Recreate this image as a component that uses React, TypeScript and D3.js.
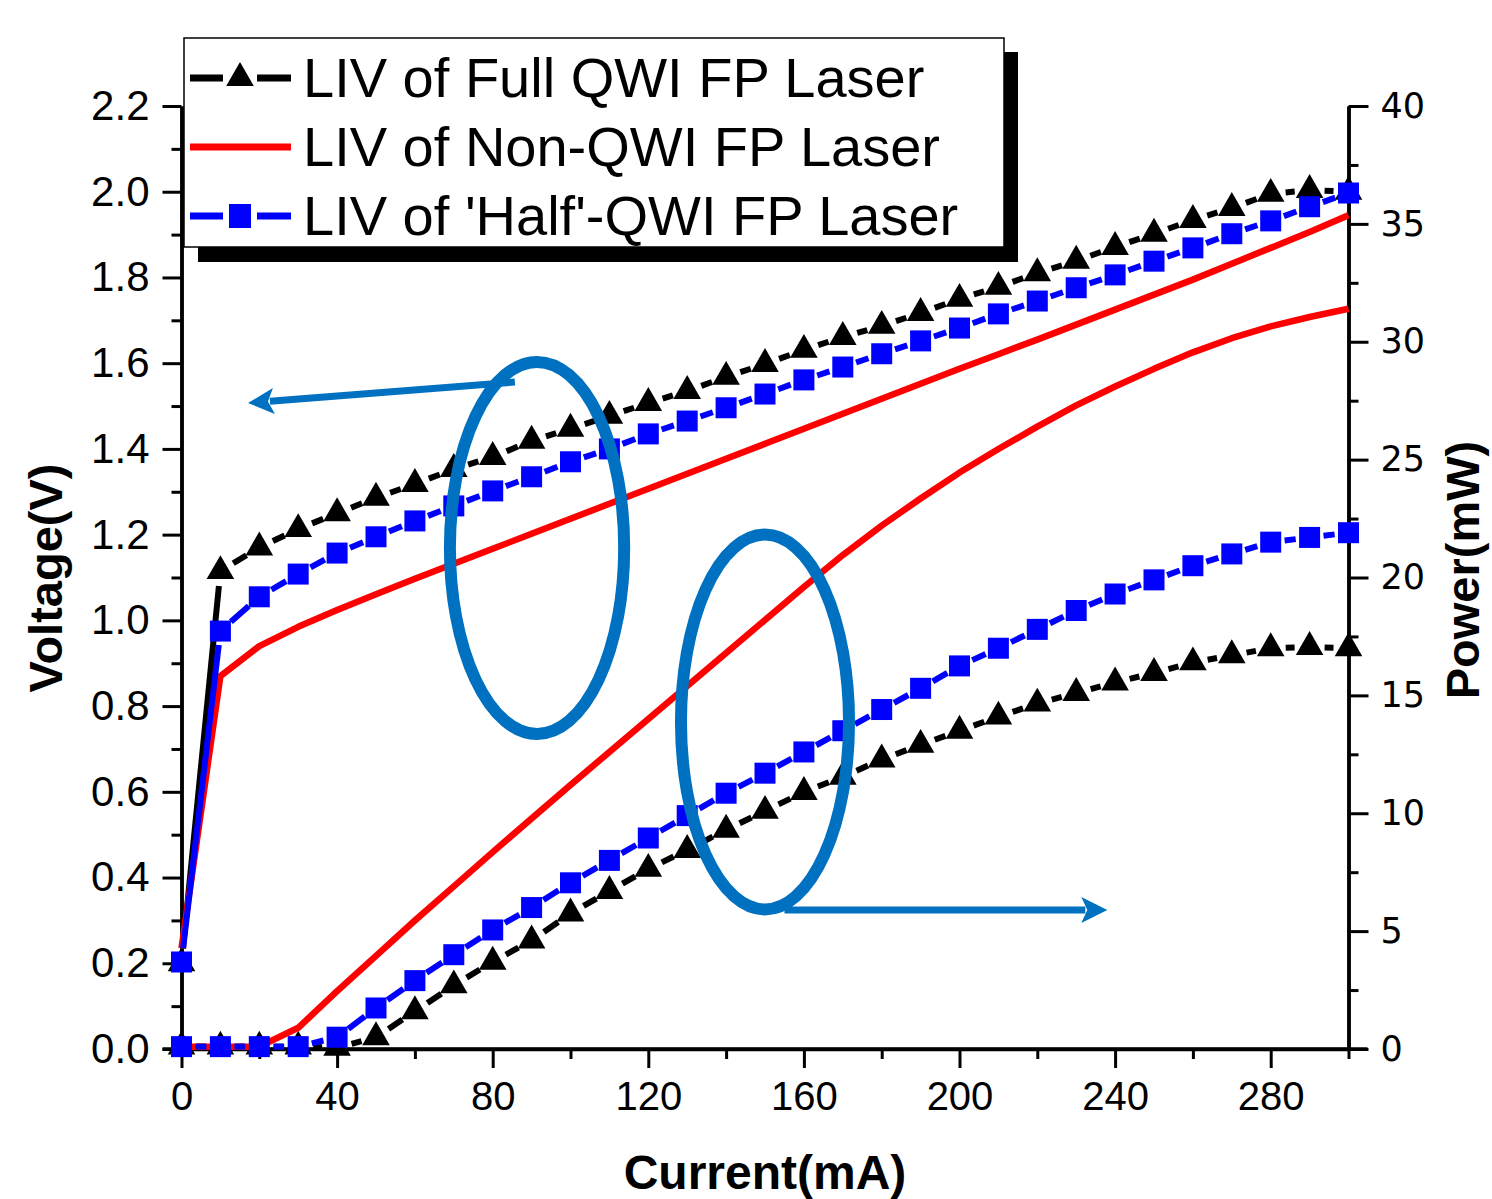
import React, { useEffect, useRef } from "react";
import * as d3 from "d3";

// current values (mA)
const current = [0, 10, 20, 30, 40, 50, 60, 70, 80, 90, 100, 110, 120, 130, 140, 150, 160, 170, 180, 190, 200, 210, 220, 230, 240, 250, 260, 270, 280, 290, 300];

// voltage (V), left axis
const vFull = [0.2, 1.115, 1.17, 1.213, 1.25, 1.286, 1.318, 1.353, 1.381, 1.419, 1.447, 1.477, 1.507, 1.535, 1.568, 1.598, 1.631, 1.661, 1.687, 1.717, 1.75, 1.778, 1.81, 1.839, 1.871, 1.902, 1.934, 1.962, 1.995, 2.004, 2.0];
const vNon = [0.235, 0.87, 0.94, 0.985, 1.024, 1.061, 1.097, 1.132, 1.167, 1.202, 1.237, 1.272, 1.307, 1.342, 1.377, 1.412, 1.447, 1.482, 1.517, 1.552, 1.587, 1.621, 1.655, 1.69, 1.725, 1.76, 1.795, 1.832, 1.869, 1.906, 1.945];
const vHalf = [0.203, 0.975, 1.055, 1.108, 1.157, 1.195, 1.232, 1.267, 1.302, 1.335, 1.37, 1.4, 1.435, 1.465, 1.496, 1.528, 1.561, 1.591, 1.622, 1.652, 1.682, 1.715, 1.745, 1.776, 1.806, 1.838, 1.869, 1.902, 1.932, 1.965, 1.997];

// power (mW), right axis
const pFull = [0.1, 0.1, 0.1, 0.1, 0.05, 0.5, 1.6, 2.7, 3.7, 4.6, 5.75, 6.7, 7.64, 8.44, 9.3, 10.1, 10.9, 11.55, 12.28, 12.9, 13.5, 14.1, 14.65, 15.1, 15.55, 15.95, 16.4, 16.7, 17.0, 17.05, 17.0];
const pNon = [0.1, 0.1, 0.1, 0.9, 2.45, 3.95, 5.45, 6.9, 8.35, 9.78, 11.2, 12.6, 14.0, 15.4, 16.8, 18.2, 19.6, 20.95, 22.2, 23.35, 24.45, 25.45, 26.4, 27.3, 28.1, 28.85, 29.55, 30.15, 30.65, 31.05, 31.4];
const pHalf = [0.1, 0.1, 0.1, 0.1, 0.5, 1.74, 2.9, 4.0, 5.05, 6.0, 7.05, 8.0, 8.95, 9.9, 10.85, 11.7, 12.6, 13.5, 14.4, 15.3, 16.25, 17.0, 17.8, 18.6, 19.3, 19.9, 20.5, 21.0, 21.5, 21.7, 21.9];

const legendLabels = ["LIV of Full QWI FP Laser", "LIV of Non-QWI FP Laser", "LIV of 'Half'-QWI FP Laser"];

const xTicks = [0, 40, 80, 120, 160, 200, 240, 280];
const xMinor = [20, 60, 100, 140, 180, 220, 260, 300];
const vTicks = [0, 0.2, 0.4, 0.6, 0.8, 1.0, 1.2, 1.4, 1.6, 1.8, 2.0, 2.2];
const pTicks = [0, 5, 10, 15, 20, 25, 30, 35, 40];

const BLUE = "#0000FF";
const RED = "#FF0000";
const NOTE = "#0070C0";

const App = () => {
  const ref = useRef<HTMLDivElement>(null);

  useEffect(() => {
    document.body.style.margin = "0";
    d3.select(ref.current).selectAll("*").remove();

    const width = 1492;
    const height = 1199;
    const svg = d3
      .select(ref.current)
      .append("svg")
      .attr("width", width)
      .attr("height", height)
      .style("display", "block")
      .style("background", "#fff");

    const x = d3.scaleLinear().domain([0, 300]).range([181.5, 1348.5]);
    const yV = d3.scaleLinear().domain([0, 2.2]).range([1049, 106]);
    const yP = d3.scaleLinear().domain([0, 40]).range([1049, 106]);

    const font = "'Liberation Sans', Arial, sans-serif";

    // axes
    const axisStyle = (g: any) => {
      g.select(".domain").attr("stroke", "#000").attr("stroke-width", 3.5);
      g.selectAll(".tick line").attr("stroke", "#000").attr("stroke-width", 3);
    };

    const left = svg.append("g").attr("transform", `translate(${x(0)},0)`);
    left.call(d3.axisLeft(yV).tickValues(vTicks.slice(1).map((v) => v - 0.1)).tickSize(10).tickSizeOuter(0).tickFormat(() => "")).call(axisStyle);
    const leftMajor = svg.append("g").attr("transform", `translate(${x(0)},0)`);
    leftMajor.call(d3.axisLeft(yV).tickValues(vTicks).tickSize(19).tickSizeOuter(0).tickPadding(13).tickFormat(d3.format(".1f"))).call(axisStyle);
    leftMajor.selectAll("text").attr("font-family", font).attr("font-size", 42).attr("fill", "#000");

    const bottom = svg.append("g").attr("transform", `translate(0,${yV(0)})`);
    bottom.call(d3.axisBottom(x).tickValues(xMinor).tickSize(10).tickSizeOuter(0).tickFormat(() => "")).call(axisStyle);
    const bottomMajor = svg.append("g").attr("transform", `translate(0,${yV(0)})`);
    bottomMajor.call(d3.axisBottom(x).tickValues(xTicks).tickSize(19).tickSizeOuter(0).tickPadding(14).tickFormat(d3.format("d"))).call(axisStyle);
    bottomMajor.selectAll("text").attr("font-family", font).attr("font-size", 40).attr("fill", "#000");
    bottomMajor.select(".domain").attr("d", `M${x(0) - 19},0H${x(300) + 19}`);

    const right = svg.append("g").attr("transform", `translate(${x(300)},0)`);
    right.call(d3.axisRight(yP).tickValues(pTicks.slice(1).map((p) => p - 2.5)).tickSize(10).tickSizeOuter(0).tickFormat(() => "")).call(axisStyle);
    const rightMajor = svg.append("g").attr("transform", `translate(${x(300)},0)`);
    rightMajor.call(d3.axisRight(yP).tickValues(pTicks).tickSize(20).tickSizeOuter(0).tickPadding(12).tickFormat(d3.format("d"))).call(axisStyle);
    rightMajor.selectAll("text").attr("font-family", "'DejaVu Sans', sans-serif").attr("font-size", 35).attr("fill", "#000");

    // axis titles
    svg.append("text").attr("x", 765).attr("y", 1189).attr("text-anchor", "middle")
      .attr("font-family", font).attr("font-weight", "bold").attr("font-size", 48).text("Current(mA)");
    svg.append("text").attr("transform", "translate(62,578) rotate(-90)").attr("text-anchor", "middle")
      .attr("font-family", font).attr("font-weight", "bold").attr("font-size", 47).text("Voltage(V)");
    svg.append("text").attr("transform", "translate(1479,570) rotate(-90)").attr("text-anchor", "middle")
      .attr("font-family", font).attr("font-weight", "bold").attr("font-size", 47).text("Power(mW)");

    // solid line with gap to symbol
    const gapLine = (g: any, pts: [number, number][], color: string, gap: number) => {
      for (let i = 0; i < pts.length - 1; i++) {
        const [x1, y1] = pts[i];
        const [x2, y2] = pts[i + 1];
        const len = Math.hypot(x2 - x1, y2 - y1);
        if (len <= gap * 2) continue;
        const ux = (x2 - x1) / len;
        const uy = (y2 - y1) / len;
        g.append("line")
          .attr("x1", x1 + ux * gap).attr("y1", y1 + uy * gap)
          .attr("x2", x2 - ux * gap).attr("y2", y2 - uy * gap)
          .attr("stroke", color).attr("stroke-width", 6);
      }
    };
    const tri = d3.symbol().type(d3.symbolTriangle).size(330);

    const drawFull = (vals: number[], y: any) => {
      const g = svg.append("g");
      const pts = current.map((c, i) => [x(c), y(vals[i])] as [number, number]);
      gapLine(g, pts, "#000", 15);
      g.selectAll("path").data(pts).enter().append("path")
        .attr("d", tri).attr("transform", (d) => `translate(${d[0]},${d[1]})`).attr("fill", "#000");
    };
    const drawNon = (vals: number[], y: any) => {
      const line = d3.line<number>().x((_, i) => x(current[i])).y((d) => y(d));
      svg.append("path").datum(vals).attr("d", line).attr("fill", "none")
        .attr("stroke", RED).attr("stroke-width", 6.5).attr("stroke-linejoin", "round");
    };
    const drawHalf = (vals: number[], y: any) => {
      const g = svg.append("g");
      const pts = current.map((c, i) => [x(c), y(vals[i])] as [number, number]);
      gapLine(g, pts, BLUE, 14);
      g.selectAll("rect").data(pts).enter().append("rect")
        .attr("x", (d) => d[0] - 10.5).attr("y", (d) => d[1] - 10.5)
        .attr("width", 21).attr("height", 21).attr("fill", BLUE);
    };

    drawFull(vFull, yV);
    drawFull(pFull, yP);
    drawNon(vNon, yV);
    drawNon(pNon, yP);
    drawHalf(vHalf, yV);
    drawHalf(pHalf, yP);

    // annotations: ellipses and arrows
    const ell = (cx: number, cy: number, rx: number, ry: number) =>
      svg.append("ellipse").attr("cx", cx).attr("cy", cy).attr("rx", rx).attr("ry", ry)
        .attr("fill", "none").attr("stroke", NOTE).attr("stroke-width", 12);
    ell(x(91.4), yV(1.169), x(22.4) - x(0), yV(0) - yV(0.434));
    ell(x(150), yP(13.87), x(21.6) - x(0), yP(0) - yP(7.95));

    const arrow = (x1: number, y1: number, x2: number, y2: number) => {
      const len = Math.hypot(x2 - x1, y2 - y1);
      const ux = (x2 - x1) / len;
      const uy = (y2 - y1) / len;
      const head = 26;
      const bx = x2 - ux * head;
      const by = y2 - uy * head;
      svg.append("line").attr("x1", x1).attr("y1", y1).attr("x2", bx + ux * 4).attr("y2", by + uy * 4)
        .attr("stroke", NOTE).attr("stroke-width", 7);
      svg.append("path")
        .attr("d", `M${x2},${y2}L${bx - uy * 13},${by + ux * 13}L${bx + ux * 6},${by + uy * 6}L${bx + uy * 13},${by - ux * 13}Z`)
        .attr("fill", NOTE);
    };
    arrow(x(85.7), yV(1.556), x(17.1), yV(1.507));
    arrow(x(155), yP(5.9), x(238), yP(5.9));

    // legend
    const lg = svg.append("g");
    lg.append("rect").attr("x", 198).attr("y", 52).attr("width", 820).attr("height", 210).attr("fill", "#000");
    lg.append("rect").attr("x", 184).attr("y", 38).attr("width", 820).attr("height", 209)
      .attr("fill", "#fff").attr("stroke", "#000").attr("stroke-width", 1.5);
    const rows = [78, 147, 216];
    legendLabels.forEach((label, i) => {
      const yy = rows[i];
      if (i === 1) {
        lg.append("line").attr("x1", 190).attr("x2", 291).attr("y1", yy).attr("y2", yy)
          .attr("stroke", RED).attr("stroke-width", 7);
      } else {
        const color = i === 0 ? "#000" : BLUE;
        lg.append("line").attr("x1", 190).attr("x2", 223).attr("y1", yy).attr("y2", yy).attr("stroke", color).attr("stroke-width", 7);
        lg.append("line").attr("x1", 257).attr("x2", 291).attr("y1", yy).attr("y2", yy).attr("stroke", color).attr("stroke-width", 7);
        if (i === 0) {
          lg.append("path").attr("d", tri).attr("transform", `translate(240,${yy})`).attr("fill", "#000");
        } else {
          lg.append("rect").attr("x", 229).attr("y", yy - 12).attr("width", 22).attr("height", 24).attr("fill", BLUE);
        }
      }
      lg.append("text").attr("x", 303).attr("y", yy + 19).attr("font-family", font)
        .attr("font-size", 56).attr("fill", "#000").text(label);
    });
  }, []);

  return <div ref={ref}></div>;
};

export default App;
